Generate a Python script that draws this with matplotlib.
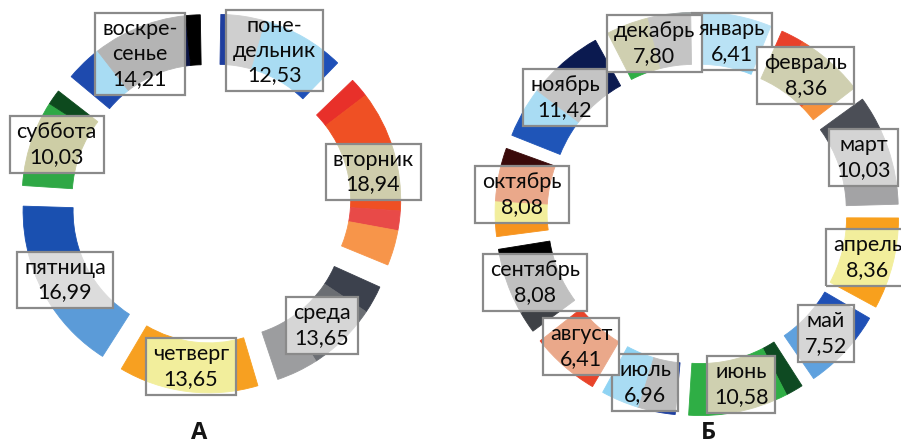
import numpy as np
import matplotlib
matplotlib.use('Agg')
import matplotlib.pyplot as plt
from matplotlib.patches import Wedge, Rectangle

# Chart A: share of the week, %
days = ['поне-\nдельник', 'вторник', 'среда', 'четверг',
        'пятница', 'суббота', 'воскре-\nсенье']
day_values = [12.53, 18.94, 13.65, 13.65, 16.99, 10.03, 14.21]

# Chart Б: share of the year, %
months = ['январь', 'февраль', 'март', 'апрель', 'май', 'июнь',
          'июль', 'август', 'сентябрь', 'октябрь', 'ноябрь', 'декабрь']
month_values = [6.41, 8.36, 10.03, 8.36, 7.52, 10.58,
                6.96, 6.41, 8.08, 8.08, 11.42, 7.80]

panel_titles = ['А', 'Б']

# Colour bands of every segment, listed clockwise: (colour, share of the arc)
day_fills = [
    [('#1f3e9e', 0.12), ('#8fd0f0', 0.58), ('#1e50b8', 0.30)],
    [('#e8302a', 0.10), ('#ef5024', 0.62), ('#e84a48', 0.10), ('#f7954a', 0.18)],
    [('#3c414d', 0.20), ('#6b6e73', 0.50), ('#9c9d9f', 0.30)],
    [('#f7a021', 1.0)],
    [('#5b9bd8', 0.40), ('#1a50b0', 0.60)],
    [('#2fa845', 0.85), ('#0d4a1e', 0.15)],
    [('#1e4aae', 0.35), ('#233a98', 0.25), ('#0b1444', 0.30), ('#000000', 0.10)],
]
# Paler tints seen through the label boxes
day_washes = [
    [('#cfcfcf', 0.35), ('#a9dcf3', 0.65)],
    [('#cfcdac', 1.0)],
    [('#d6d6d6', 1.0)],
    [('#f2ee9c', 1.0)],
    [('#dcdcdc', 1.0)],
    [('#cdcda5', 1.0)],
    [('#a8dcf3', 0.25), ('#b4b4b4', 0.75)],
]

month_fills = [
    [('#8fd3f3', 1.0)],
    [('#e8402b', 0.25), ('#ee5a30', 0.50), ('#f7923c', 0.25)],
    [('#4b4e56', 0.35), ('#7c7e82', 0.30), ('#a3a3a5', 0.35)],
    [('#f8a01d', 1.0)],
    [('#1f50b6', 0.40), ('#2a9fae', 0.25), ('#5fa1de', 0.35)],
    [('#0e4a22', 0.15), ('#2fae45', 0.85)],
    [('#1e3fa0', 0.45), ('#8fd3f3', 0.55)],
    [('#e8442a', 1.0)],
    [('#3e4146', 0.25), ('#a3a3a3', 0.50), ('#000000', 0.25)],
    [('#f7941e', 0.25), ('#e9a586', 0.50), ('#3a0a0a', 0.25)],
    [('#1f55b8', 0.50), ('#0b1a50', 0.50)],
    [('#2fae45', 0.25), ('#9aa0a0', 0.75)],
]
month_washes = [
    [('#b9e2f5', 1.0)],
    [('#cfcfb0', 1.0)],
    [('#d4d4d4', 1.0)],
    [('#f2ee9c', 1.0)],
    [('#d6d6d6', 1.0)],
    [('#cfd0b0', 1.0)],
    [('#bdbdbd', 0.5), ('#a9dcf3', 0.5)],
    [('#eaa88a', 1.0)],
    [('#c0c0c0', 1.0)],
    [('#f2ee9c', 0.4), ('#eaa88a', 0.6)],
    [('#a9dcf3', 0.4), ('#c4c4c4', 0.6)],
    [('#cfcfb0', 0.5), ('#c4c4c4', 0.5)],
]

FONT = ['Lato', 'Open Sans', 'DejaVu Sans']
W, H = 901, 445


def fmt(v):
    return f'{v:.2f}'.replace('.', ',')


def band_wedges(center, r_out, width, a_hi, a_lo, bands, **kw):
    """Split one arc into coloured sub-wedges, clockwise from a_hi to a_lo."""
    span = a_hi - a_lo
    f0 = 0.0
    out = []
    for colour, frac in bands:
        f1 = f0 + frac
        w = Wedge(center, r_out, a_hi - span * f1, a_hi - span * f0,
                  width=width, fc=colour, ec=colour, lw=0.6, **kw)
        out.append(w)
        f0 = f1
    return out


def draw_ring(ax, labels, values, center, r_out, width, explode,
              fills, washes, gap_px=5, fontsize=15.5):
    """Exploded doughnut starting at 12 o'clock and running clockwise."""
    total = sum(values)
    r_mid = r_out - width / 2
    gap = np.degrees(gap_px / r_mid) / 2
    segments = []
    cum = 0.0
    for lab, val, fill, wash in zip(labels, values, fills, washes):
        t_start = 90 - 360 * cum / total
        t_end = 90 - 360 * (cum + val) / total
        cum += val
        mid = np.radians((t_start + t_end) / 2)
        direction = np.array([np.cos(mid), np.sin(mid)])
        c = np.array(center) + explode * direction
        a_hi, a_lo = t_start - gap, t_end + gap
        for w in band_wedges(c, r_out, width, a_hi, a_lo, fill, zorder=2):
            ax.add_patch(w)
        x, y = c + r_mid * direction
        t = ax.text(x, y, f'{lab}\n{fmt(val)}', ha='center', va='center',
                    multialignment='center', fontsize=fontsize,
                    family=FONT, color='#0a0a0a', linespacing=1.3, zorder=6)
        segments.append((t, c, a_hi, a_lo, wash))
    return segments


def add_boxes(fig, ax, segments, r_out, width, padx=7, pady=6):
    """Grey-framed label boxes; the ring shows through them in pale tints."""
    renderer = fig.canvas.get_renderer()
    inv = ax.transData.inverted()
    for i, (t, c, a_hi, a_lo, wash) in enumerate(segments):
        bb = t.get_window_extent(renderer)
        (x0, y0), (x1, y1) = inv.transform([[bb.x0, bb.y0], [bb.x1, bb.y1]])
        xy = (x0 - padx, y0 - pady)
        bw, bh = (x1 - x0) + 2 * padx, (y1 - y0) + 2 * pady
        z = 3 + i * 0.01
        back = Rectangle(xy, bw, bh, fc='white', ec='none', zorder=z)
        ax.add_patch(back)
        for w in band_wedges(c, r_out, width, a_hi, a_lo, wash, zorder=z + 0.002):
            ax.add_patch(w)
            w.set_clip_path(back)
        ax.add_patch(Rectangle(xy, bw, bh, fill=False, ec='#8a8a8a',
                               lw=1.6, zorder=z + 0.004))


def main():
    fig = plt.figure(figsize=(W / 100, H / 100), dpi=100)
    ax = fig.add_axes([0, 0, 1, 1])
    ax.set_xlim(0, W)
    ax.set_ylim(0, H)
    ax.set_aspect('equal')
    ax.axis('off')

    # y runs upward here, so ring centres are given from the bottom edge
    seg_a = draw_ring(ax, days, day_values, (211, H - 203), 172, 50, 18,
                      day_fills, day_washes)
    seg_b = draw_ring(ax, months, month_values, (697, H - 214), 188, 52, 14,
                      month_fills, month_washes)

    fig.canvas.draw()
    add_boxes(fig, ax, seg_a, 172, 50)
    add_boxes(fig, ax, seg_b, 188, 52)

    for x, title in zip([199, 708], panel_titles):
        ax.text(x, H - 433, title, ha='center', va='center', fontsize=17,
                fontweight='bold', family=['Open Sans', 'DejaVu Sans'],
                color='#151515')

    fig.savefig('out.png', dpi=100, facecolor='white')


if __name__ == '__main__':
    main()
